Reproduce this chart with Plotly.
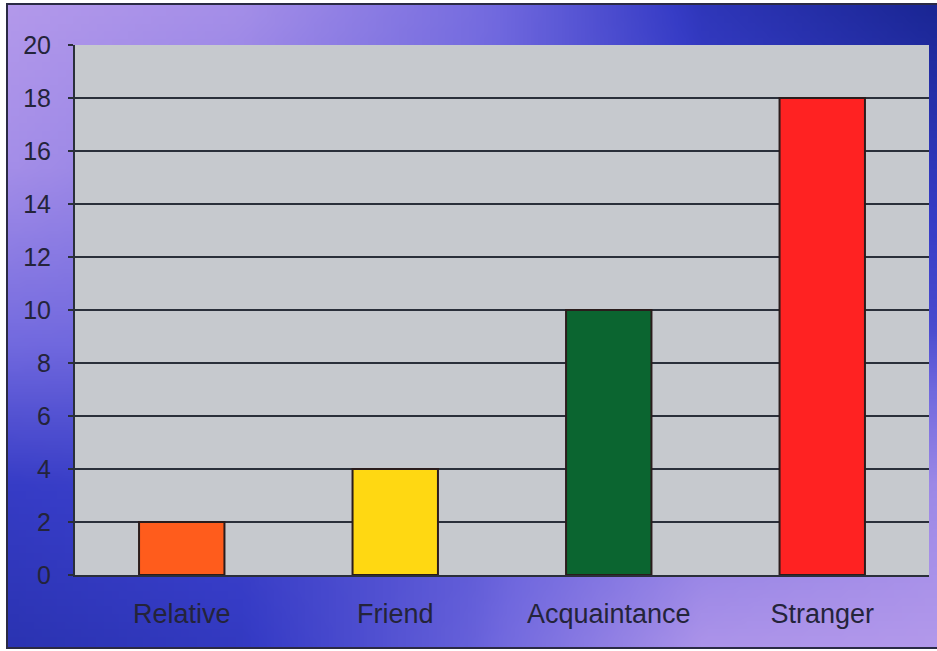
import base64
import struct
import zlib

import plotly.graph_objects as go

# ---- data -------------------------------------------------------------
categories = ["Relative", "Friend", "Acquaintance", "Stranger"]
values = [2, 4, 10, 18]
bar_colors = ["#ff5c1c", "#ffd812", "#0b6530", "#ff2222"]
y_ticks = list(range(0, 21, 2))

# ---- canvas geometry ----------------------------------------------------
W, H = 937, 651
M_L, M_R, M_T, M_B = 75, 8, 45, 76
PLOT_W = W - M_L - M_R
PLOT_H = H - M_T - M_B
PANEL = dict(left=7, right=937, top=4, bottom=648)


def px_to_paper_x(px):
    return (px - M_L) / PLOT_W


def px_to_paper_y(py):
    return (H - M_B - py) / PLOT_H


# ---- lavender / blue backdrop as a small PNG ---------------------------
# blueness at a 5x5 lattice (rows top->bottom, cols left->right)
BLUENESS = [
    [0.05, 0.15, 0.45, 0.85, 1.00],
    [0.15, 0.30, 0.50, 0.75, 0.85],
    [0.45, 0.50, 0.55, 0.60, 0.70],
    [0.80, 0.75, 0.60, 0.35, 0.20],
    [0.88, 0.82, 0.55, 0.10, 0.05],
]
STOPS = [
    (0.00, (186, 158, 236)),
    (0.50, (112, 104, 222)),
    (0.80, (54, 60, 198)),
    (1.00, (26, 38, 148)),
]


def blue_color(t):
    for (a, ca), (b, cb) in zip(STOPS, STOPS[1:]):
        if t <= b:
            f = (t - a) / (b - a) if b > a else 0
            return tuple(int(round(ca[i] + (cb[i] - ca[i]) * f)) for i in range(3))
    return STOPS[-1][1]


def lattice(u, v):
    n = len(BLUENESS) - 1
    x = u * n
    y = v * n
    i = min(int(y), n - 1)
    j = min(int(x), n - 1)
    fy = y - i
    fx = x - j
    top = BLUENESS[i][j] * (1 - fx) + BLUENESS[i][j + 1] * fx
    bot = BLUENESS[i + 1][j] * (1 - fx) + BLUENESS[i + 1][j + 1] * fx
    return top * (1 - fy) + bot * fy


def backdrop_uri(w=120, h=84):
    rows = []
    for r in range(h):
        row = bytearray(b"\x00")
        for c in range(w):
            row.extend(blue_color(lattice(c / (w - 1), r / (h - 1))))
        rows.append(bytes(row))
    raw = b"".join(rows)

    def chunk(tag, data):
        return (struct.pack(">I", len(data)) + tag + data
                + struct.pack(">I", zlib.crc32(tag + data) & 0xFFFFFFFF))

    png = (b"\x89PNG\r\n\x1a\n"
           + chunk(b"IHDR", struct.pack(">IIBBBBB", w, h, 8, 2, 0, 0, 0))
           + chunk(b"IDAT", zlib.compress(raw, 9))
           + chunk(b"IEND", b""))
    return "data:image/png;base64," + base64.b64encode(png).decode()


# ---- figure -------------------------------------------------------------
FONT = "Liberation Sans, Arial, sans-serif"
INK = "#24243a"
GRID = "#2a2f3a"
PLOT_FILL = "#c6c9ce"

fig = go.Figure(
    go.Bar(
        x=categories,
        y=values,
        width=0.4,
        marker=dict(color=bar_colors, line=dict(color="#2a1c1c", width=2)),
        hoverinfo="x+y",
    )
)

px0, px1 = px_to_paper_x(PANEL["left"]), px_to_paper_x(PANEL["right"])
py0, py1 = px_to_paper_y(PANEL["bottom"]), px_to_paper_y(PANEL["top"])

# gradient panel behind everything
fig.add_layout_image(
    source=backdrop_uri(),
    xref="paper", yref="paper",
    x=px0, y=py1, sizex=px1 - px0, sizey=py1 - py0,
    xanchor="left", yanchor="top",
    sizing="stretch", layer="below",
)
# grey plotting field, above the panel but under the grid lines
fig.add_shape(
    type="rect", xref="paper", yref="paper",
    x0=0, x1=1, y0=0, y1=1,
    fillcolor=PLOT_FILL, line=dict(width=0), layer="below",
)
# thin dark frame around the panel
fig.add_shape(
    type="rect", xref="paper", yref="paper",
    x0=px0, x1=px1 + 0.01, y0=py0, y1=py1,
    line=dict(color="#2a2a44", width=2), layer="above",
)

fig.update_layout(
    width=W,
    height=H,
    margin=dict(l=M_L, r=M_R, t=M_T, b=M_B),
    paper_bgcolor="white",
    plot_bgcolor=PLOT_FILL,
    showlegend=False,
    bargap=0.6,
    font=dict(family=FONT, color=INK),
    xaxis=dict(
        showline=True, linecolor=GRID, linewidth=2,
        showgrid=False, ticks="",
        tickfont=dict(size=27, color=INK),
        ticklabelstandoff=14,
    ),
    yaxis=dict(
        range=[0, 20],
        tickvals=y_ticks,
        showline=True, linecolor=GRID, linewidth=2,
        showgrid=True, gridcolor=GRID, gridwidth=2,
        zeroline=False,
        ticks="outside", ticklen=5, tickwidth=2, tickcolor=GRID,
        tickfont=dict(size=25, color=INK),
        ticklabelstandoff=12,
    ),
)

fig.write_html("out.html")
